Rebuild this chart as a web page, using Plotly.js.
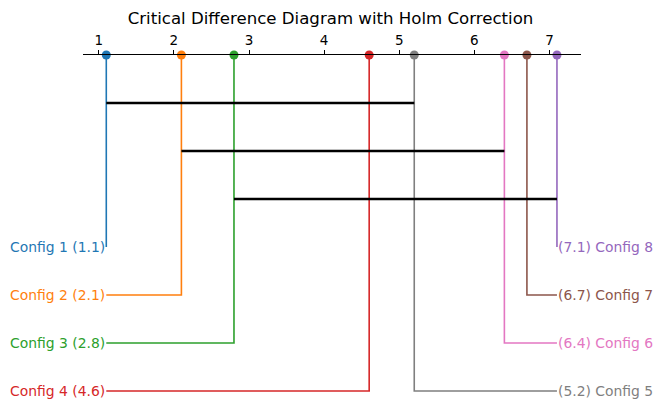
<!DOCTYPE html>
<html>
<head>
<meta charset="utf-8">
<script src="https://cdn.plot.ly/plotly-3.0.1.min.js"></script>
<style>html,body{margin:0;padding:0;background:#fff;}#chart{width:661px;height:418px;}</style>
</head>
<body>
<div id="chart"></div>
<script>
const configs = ["Config 1","Config 2","Config 3","Config 4","Config 5","Config 6","Config 7","Config 8"];
const ranks = [1.1, 2.1, 2.8, 4.6, 5.2, 6.4, 6.7, 7.1];
const colors = ["#1f77b4","#ff7f0e","#2ca02c","#d62728","#7f7f7f","#e377c2","#8c564b","#9467bd"];
// cliques: pairs of [first config index, last config index] (non-significant groups)
const cliqueStart = [0, 1, 2];
const cliqueEnd = [4, 5, 7];
const tickVals = [1,2,3,4,5,6,7];

const minR = Math.min(...ranks), maxR = Math.max(...ranks);
const n = ranks.length, half = n/2;
const nCliques = cliqueStart.length;
const traces = [];
const annotations = [];
const font = "DejaVu Sans, sans-serif";

for (let i = 0; i < n; i++) {
  let row, edge, text, anchor, shift;
  if (i < half) {
    row = nCliques + 1 + i;
    edge = minR;
    text = configs[i] + " (" + ranks[i].toFixed(1) + ")";
    anchor = "right";
    shift = 1;
  } else {
    row = nCliques + 1 + (n - 1 - i);
    edge = maxR;
    text = "(" + ranks[i].toFixed(1) + ") " + configs[i];
    anchor = "left";
    shift = -1;
  }
  traces.push({
    x: [ranks[i], ranks[i], edge], y: [0, row, row],
    mode: "lines", line: {color: colors[i], width: 1.6},
    hoverinfo: "skip", showlegend: false, cliponaxis: false
  });
  annotations.push({
    x: edge, y: row, xref: "x", yref: "y", text: text, showarrow: false,
    xanchor: anchor, yanchor: "middle", xshift: shift,
    font: {family: font, size: 13.9, color: colors[i]}
  });
}
for (let c = 0; c < nCliques; c++) {
  traces.push({
    x: [ranks[cliqueStart[c]], ranks[cliqueEnd[c]]], y: [c + 1, c + 1],
    mode: "lines", line: {color: "#000000", width: 2.6},
    hoverinfo: "skip", showlegend: false, cliponaxis: false
  });
}
traces.push({
  x: ranks, y: ranks.map(() => 0), mode: "markers",
  marker: {color: colors, size: 9},
  hoverinfo: "skip", showlegend: false, cliponaxis: false
});

const layout = {
  width: 661, height: 418,
  margin: {l: 83, r: 80, t: 55, b: 15},
  paper_bgcolor: "#ffffff", plot_bgcolor: "#ffffff",
  title: {text: "Critical Difference Diagram with Holm Correction",
          font: {family: font, size: 16.6, color: "#000"},
          x: 0.5, xanchor: "center", y: 1 - 18/418, yanchor: "middle", yref: "container"},
  xaxis: {range: [0.79, 7.42], side: "top", tickvals: tickVals, ticktext: tickVals.map(String),
          showline: true, linecolor: "#000", linewidth: 1, ticks: "outside", ticklen: 4,
          tickcolor: "#000", tickwidth: 1, showgrid: false, zeroline: false,
          tickfont: {family: font, size: 13.5, color: "#000"}, fixedrange: true},
  yaxis: {range: [7.25, 0], visible: false, showgrid: false, zeroline: false, fixedrange: true},
  annotations: annotations,
  font: {family: font}
};
Plotly.newPlot("chart", traces, layout, {displayModeBar: false, staticPlot: true});
</script>
</body>
</html>
